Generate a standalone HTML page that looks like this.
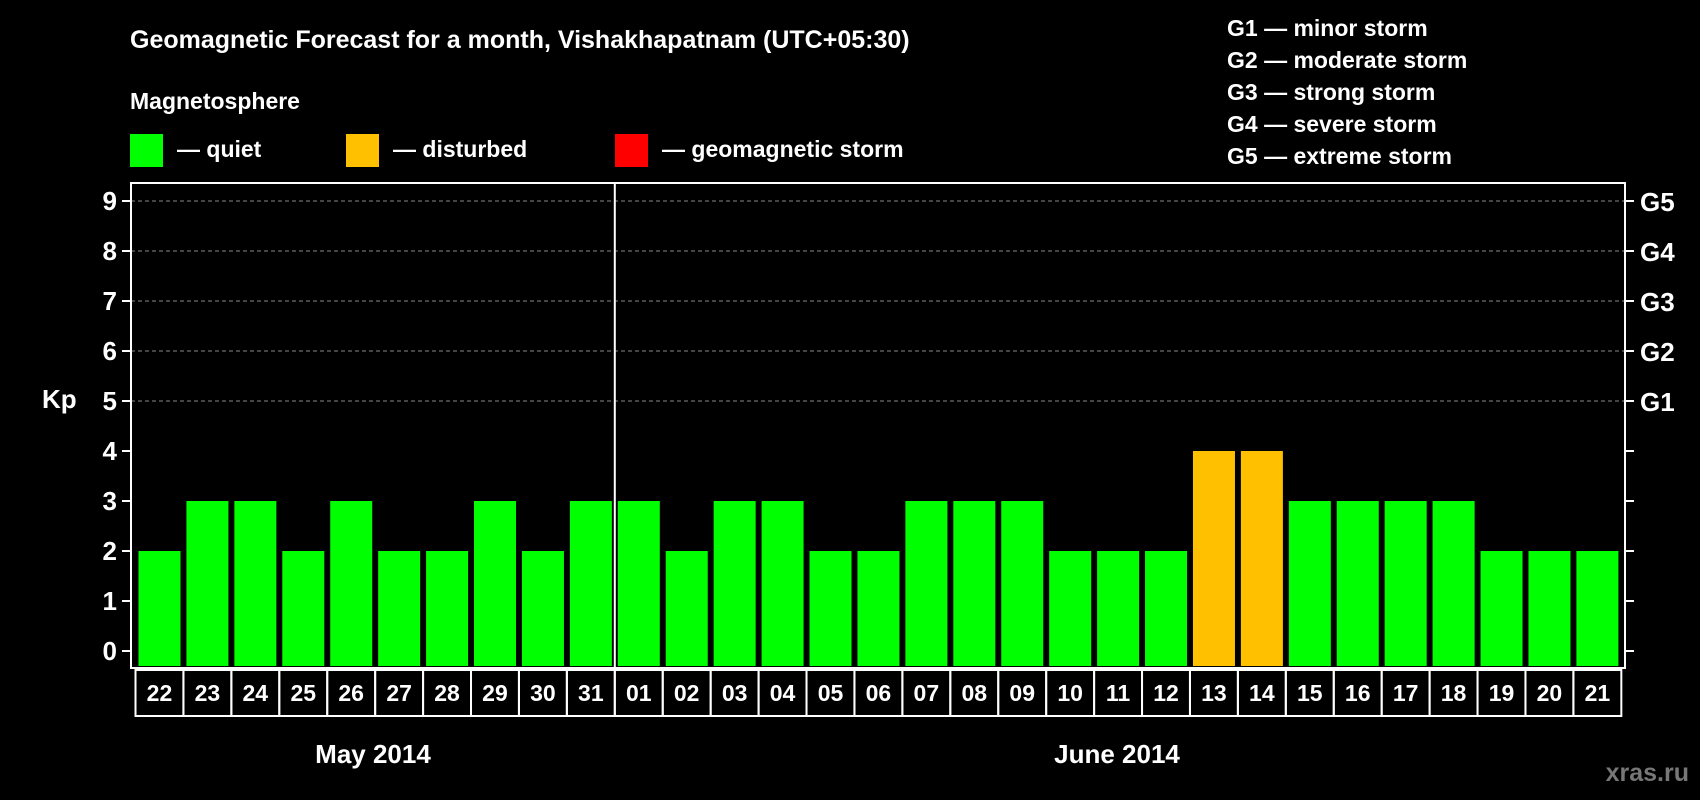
<!DOCTYPE html>
<html><head><meta charset="utf-8"><style>
body{margin:0;background:#000;}
svg{display:block;font-family:"Liberation Sans",Arial,sans-serif;font-weight:bold;}
</style></head><body>
<svg id="c" width="1700" height="800" viewBox="0 0 1700 800">
<rect width="1700" height="800" fill="#000"/>
<text x="130" y="48" fill="#fff" font-size="25">Geomagnetic Forecast for a month, Vishakhapatnam (UTC+05:30)</text>
<text x="130" y="109" fill="#fff" font-size="23">Magnetosphere</text>
<g><rect x="130" y="134" width="33" height="33" fill="#00ff00"/><text x="177" y="157" fill="#fff" font-size="23">— quiet</text></g>
<g><rect x="346" y="134" width="33" height="33" fill="#ffc000"/><text x="393" y="157" fill="#fff" font-size="23">— disturbed</text></g>
<g><rect x="615" y="134" width="33" height="33" fill="#ff0000"/><text x="662" y="157" fill="#fff" font-size="23">— geomagnetic storm</text></g>
<g fill="#fff" font-size="23">
<text x="1227" y="36">G1 — minor storm</text>
<text x="1227" y="68">G2 — moderate storm</text>
<text x="1227" y="100">G3 — strong storm</text>
<text x="1227" y="132">G4 — severe storm</text>
<text x="1227" y="164">G5 — extreme storm</text>
</g>
<text x="42" y="408" fill="#fff" font-size="26">Kp</text>
<g id="grid"></g><g id="bars"></g><g id="axes"></g>
<text x="373" y="763" fill="#fff" font-size="26" text-anchor="middle">May 2014</text>
<text x="1117" y="763" fill="#fff" font-size="26" text-anchor="middle">June 2014</text>
<text x="1689" y="781" fill="#777" font-size="25" text-anchor="end">xras.ru</text>
</svg>
<script>
const days=["22","23","24","25","26","27","28","29","30","31","01","02","03","04","05","06","07","08","09","10","11","12","13","14","15","16","17","18","19","20","21"];
const kp=[2,3,3,2,3,2,2,3,2,3,3,2,3,3,2,2,3,3,3,2,2,2,4,4,3,3,3,3,2,2,2];
const yTicks=[0,1,2,3,4,5,6,7,8,9];
const gLabels=["","","","","","G1","G2","G3","G4","G5"];
const NS="http://www.w3.org/2000/svg";
const L=131,R=1625,T=183,B=668,X0=135.5,SW=47.93;
const y=v=>651-v*50;
const x=i=>X0+i*SW;
function mk(t,a,p){const e=document.createElementNS(NS,t);for(const k in a)e.setAttribute(k,a[k]);p.appendChild(e);return e;}
const grid=document.getElementById('grid'),bars=document.getElementById('bars'),axes=document.getElementById('axes');
yTicks.forEach((v,i)=>{
 if(v>=5){const g=mk('line',{x1:L,x2:R,y1:y(v),y2:y(v),stroke:'#888','stroke-dasharray':'4,3'},grid);
 
 }
 const t1=mk('line',{x1:L-9,x2:L,y1:y(v),y2:y(v),stroke:'#fff','stroke-width':2},axes);
 
 
 const t2=mk('line',{x1:R,x2:R+9,y1:y(v),y2:y(v),stroke:'#fff','stroke-width':2},axes);
 
 
 const l=mk('text',{x:L-14,y:y(v)+9,fill:'#fff','font-size':26,'text-anchor':'end'},axes);l.textContent=v;
 
 
 if(gLabels[i]){const g=mk('text',{x:R+15,y:y(v)+10,fill:'#fff','font-size':26},axes);g.textContent=gLabels[i];
 
 }
});
kp.forEach((v,i)=>{
 const c=v>=5?'#ff0000':(v>=4?'#ffc000':'#00ff00');
 const b=mk('rect',{x:x(i)+3,y:y(v),width:42,height:y(0)-y(v)+15,fill:c},bars);
 
 
 const cell=mk('rect',{x:x(i),y:670,width:SW,height:46,fill:'none',stroke:'#fff','stroke-width':2},axes);
 
 
 const t=mk('text',{x:x(i)+SW/2,y:701,fill:'#fff','font-size':23,'text-anchor':'middle'},axes);t.textContent=days[i];
 
 
});
const f=mk('rect',{x:L,y:T,width:R-L,height:B-T,fill:'none',stroke:'#fff','stroke-width':2},axes);


const d=mk('line',{x1:x(10),x2:x(10),y1:T,y2:B,stroke:'#fff','stroke-width':2},axes);


</script>
</body></html>
